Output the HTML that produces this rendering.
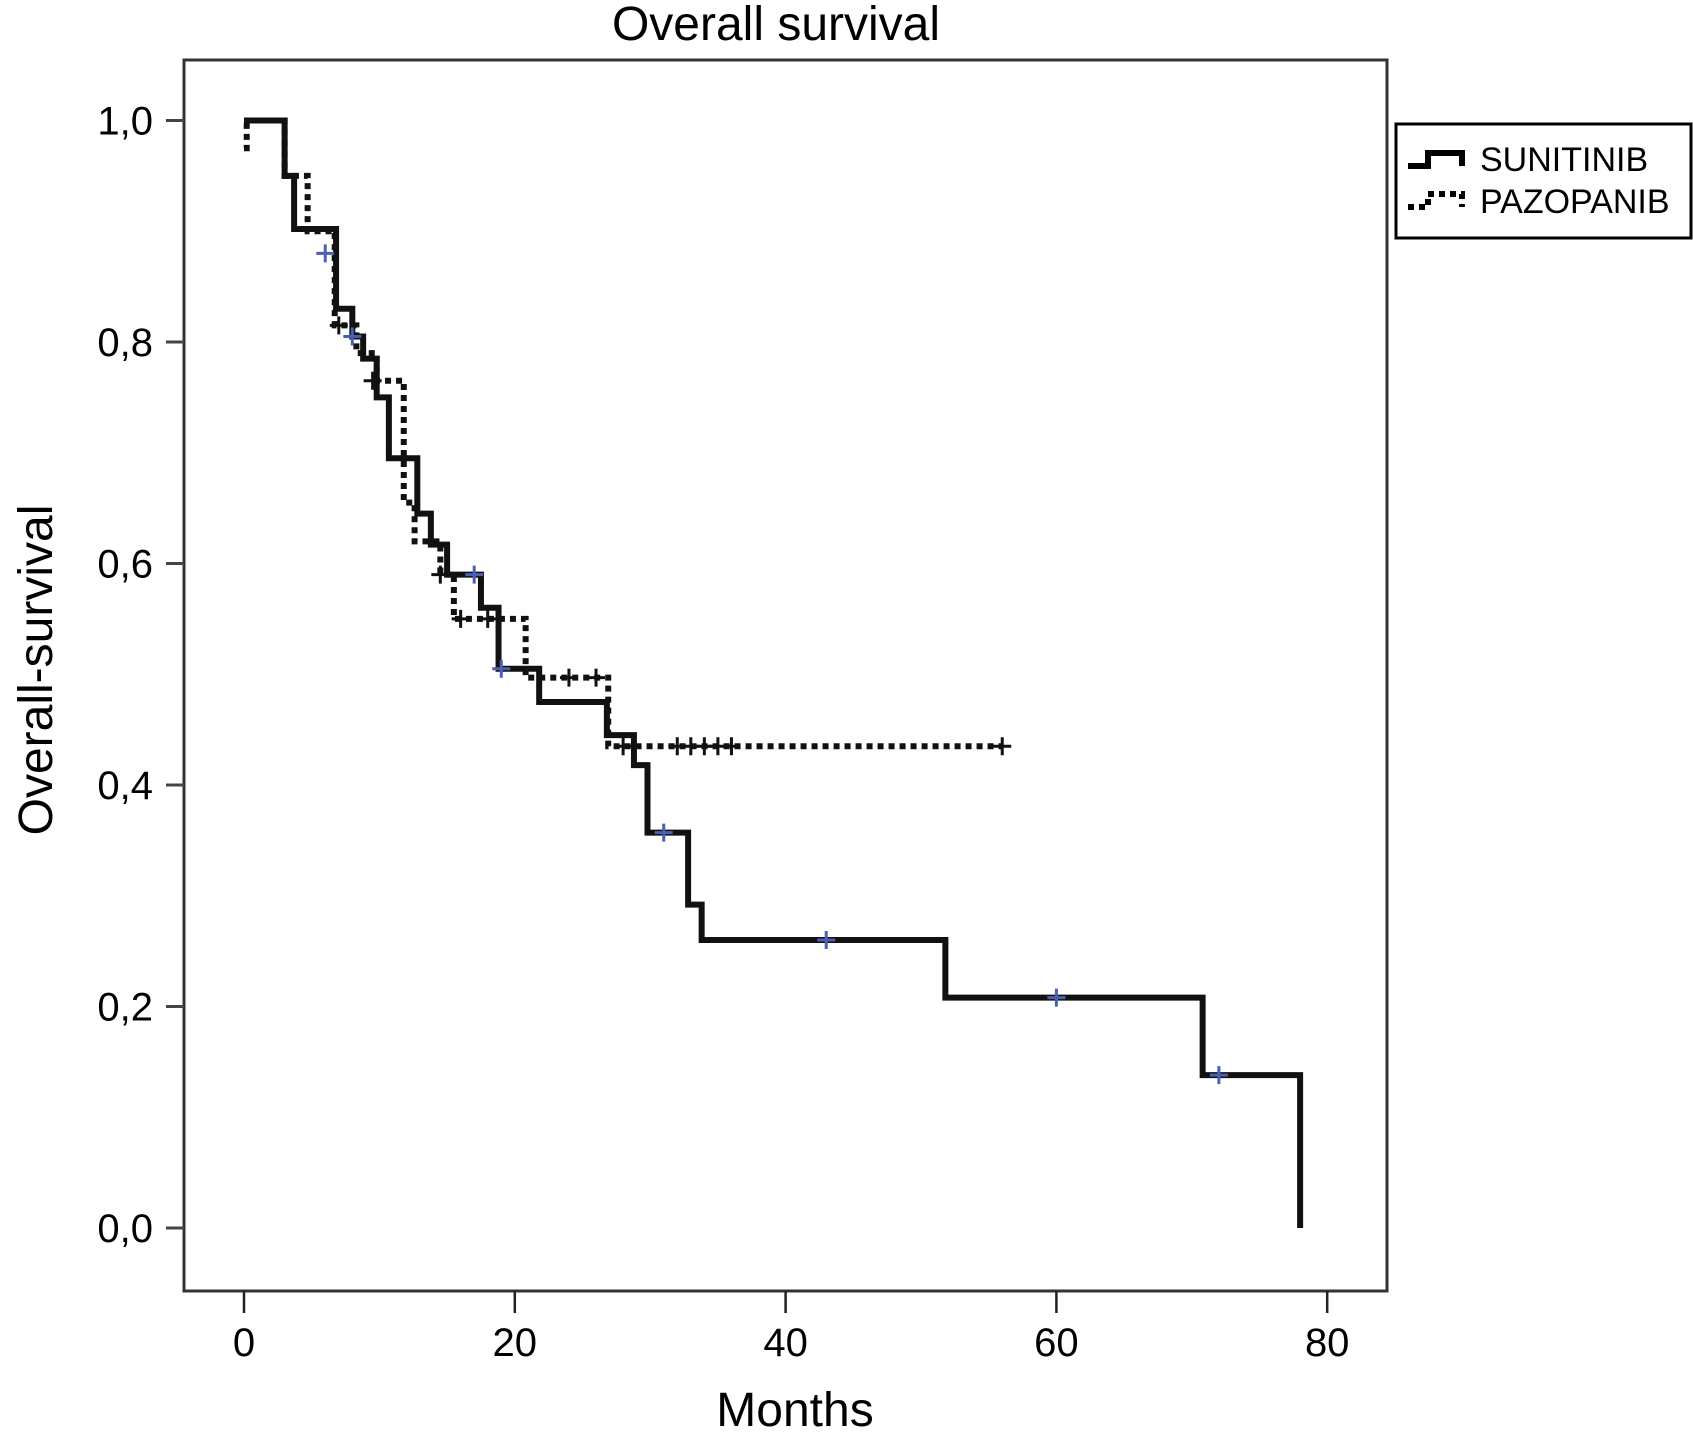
<!DOCTYPE html>
<html><head><meta charset="utf-8"><style>
html,body{margin:0;padding:0;background:#fff}
svg{display:block;font-family:"Liberation Sans",Arial,sans-serif}
</style></head><body>
<svg id="chart" width="1693" height="1453" viewBox="0 0 1693 1453">
<text x="776" y="40" font-size="48" text-anchor="middle">Overall survival</text>
<rect x="184" y="60" width="1203" height="1231" fill="none" stroke="#333" stroke-width="3"/>
<g id="axes"></g>
<g id="series"></g>
<text transform="translate(52,670) rotate(-90)" font-size="48" text-anchor="middle">Overall-survival</text>
<text x="795" y="1426" font-size="48" text-anchor="middle">Months</text>
<g>
<rect x="1396" y="124" width="295" height="114" fill="#fff" stroke="#000" stroke-width="3"/>
<path d="M1408 166 H1428 V153 H1462 V166" fill="none" stroke="#000" stroke-width="6"/>
<text x="1480" y="171" font-size="34">SUNITINIB</text>
<path d="M1408 207 H1428 V194 H1462 V207" fill="none" stroke="#000" stroke-width="6" stroke-dasharray="6,5"/>
<text x="1480" y="213" font-size="34">PAZOPANIB</text>
</g>
</svg>
<script>
const xTicks=[0,20,40,60,80];
const yTicks=[0,0.2,0.4,0.6,0.8,1.0];
const yTickLabels=["0,0","0,2","0,4","0,6","0,8","1,0"];
const sunTimes=[0,3,3.7,6.8,8,8.8,9.8,10.7,12.8,13.8,15,17.5,18.8,21.8,26.8,28.8,29.8,32.8,33.8,51.8,70.8,78];
const sunValues=[1.0,0.95,0.902,0.83,0.805,0.785,0.75,0.695,0.645,0.617,0.59,0.56,0.505,0.475,0.445,0.418,0.357,0.292,0.26,0.208,0.138,0.0];
const sunCensorT=[6,8,17,19,31,43,60,72];
const sunCensorV=[0.88,0.805,0.59,0.505,0.357,0.26,0.208,0.138];
const pazTimes=[0,0.2,3,4.7,6.7,8.3,9.8,11.8,12.6,14.5,15.5,20.8,26.9];
const pazValues=[0.975,1.0,0.95,0.90,0.815,0.79,0.765,0.655,0.62,0.59,0.55,0.497,0.435];
const pazEnd=56;
const pazCensorT=[7,9.5,14.5,16,18,24,26,28,32,33,34,35,36,56];
const pazCensorV=[0.815,0.765,0.59,0.55,0.55,0.497,0.497,0.435,0.435,0.435,0.435,0.435,0.435,0.435];

const NS="http://www.w3.org/2000/svg";
const X=t=>244+t*13.54;
const Y=v=>1228-v*1107.5;
const axes=document.getElementById('axes'), series=document.getElementById('series');
function mk(tag,attrs,parent){const e=document.createElementNS(NS,tag);for(const k in attrs)e.setAttribute(k,attrs[k]);parent.appendChild(e);return e;}
xTicks.forEach(t=>{
  const l=mk('line',{x1:X(t),x2:X(t),y1:1291,y2:1313,stroke:'#222','stroke-width':2.5},axes);
  
  
  const tx=mk('text',{x:X(t),y:1356,'font-size':40,'text-anchor':'middle'},axes);
  tx.textContent=t;
  
  
});
yTicks.forEach((v,i)=>{
  const l=mk('line',{x1:166,x2:184,y1:Y(v),y2:Y(v),stroke:'#444','stroke-width':3},axes);
  
  
  const tx=mk('text',{x:153,y:Y(v)+14,'font-size':40,'text-anchor':'end'},axes);
  tx.textContent=yTickLabels[i];
  
  
});
function stepPath(ts,vs,end){
  let d='M'+X(ts[0])+' '+Y(vs[0]);
  for(let i=1;i<ts.length;i++){d+=' H'+X(ts[i])+' V'+Y(vs[i]);}
  if(end!==undefined)d+=' H'+X(end);
  return d;
}
const pp=mk('path',{d:stepPath(pazTimes,pazValues,pazEnd),fill:'none',stroke:'#111','stroke-width':6,'stroke-dasharray':'6,5'},series);


const sp=mk('path',{d:stepPath(sunTimes,sunValues),fill:'none',stroke:'#111','stroke-width':6},series);


function censor(ts,vs,color,name){
  ts.forEach((t,i)=>{
    const x=X(t),y=Y(vs[i]);
    const g=mk('path',{d:`M${x-9} ${y} H${x+9} M${x} ${y-9} V${y+9}`,stroke:color,'stroke-width':3,fill:'none'},series);
    
    
  });
}
censor(pazCensorT,pazCensorV,'#111','pazopanib-censor-mark');
censor(sunCensorT,sunCensorV,'#4a5fb0','sunitinib-censor-mark');
</script>
</body></html>
